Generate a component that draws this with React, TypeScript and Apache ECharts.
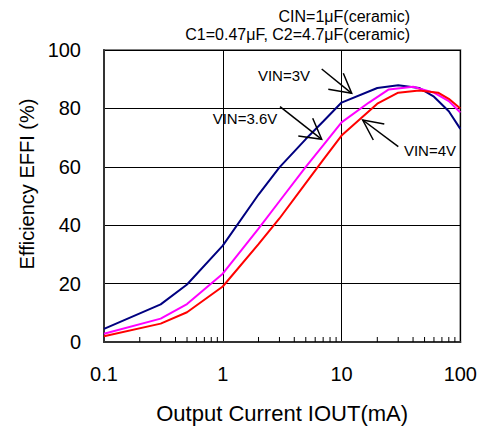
import React, { useEffect, useRef } from "react";
import * as echarts from "echarts";

const FONT = "'Liberation Sans', Arial, sans-serif";

const xTickLabels = ["0.1", "1", "10", "100"];
const yTickValues = [0, 20, 40, 60, 80, 100];

const minorTicks = [
  0.2, 0.3, 0.4, 0.5, 0.6, 0.7, 0.8, 0.9,
  2, 3, 4, 5, 6, 7, 8, 9,
  20, 30, 40, 50, 60, 70, 80, 90,
];

// VIN = 3V
const vin3Current = [0.1, 0.3, 0.5, 1, 2, 3, 5, 7, 10, 20, 30, 45, 60, 80, 100];
const vin3Eff = [4.5, 12.9, 19.7, 33, 50.5, 59.8, 69.5, 75.5, 82, 87, 87.9, 87, 84, 79, 73];

// VIN = 3.6V
const vin36Current = [0.1, 0.3, 0.5, 1, 2, 3, 5, 7, 10, 17, 25, 40, 60, 80, 100];
const vin36Eff = [2.8, 8, 13, 23.4, 38.8, 48.2, 60, 67.3, 75.2, 82, 86.5, 87.4, 85.4, 82.5, 78.6];

// VIN = 4V
const vin4Current = [0.1, 0.3, 0.5, 1, 2, 3, 5, 7, 10, 20, 30, 45, 65, 80, 100];
const vin4Eff = [2, 6.3, 10.2, 19, 33.5, 42.3, 54.4, 62.4, 70.7, 81.6, 85.4, 86.1, 85.4, 83.3, 80];

const zip = (xs: number[], ys: number[]) => xs.map((x, i) => [x, ys[i]]);

export default function App() {
  const ref = useRef<HTMLDivElement>(null);

  useEffect(() => {
    if (!ref.current) return;
    const chart = echarts.init(ref.current, null, { renderer: "svg" });
    const lineSeries = (name: string, data: number[][], color: string) => ({
      name,
      type: "line",
      data,
      symbol: "none",
      smooth: false,
      lineStyle: { color, width: 2 },
      z: 3,
    });
    chart.setOption({
      animation: false,
      backgroundColor: "#ffffff",
      textStyle: { fontFamily: FONT },
      grid: {
        left: 104,
        right: 19,
        top: 50,
        bottom: 83,
        show: true,
        borderColor: "#808080",
        borderWidth: 2,
        backgroundColor: "transparent",
      },
      xAxis: {
        type: "log",
        logBase: 10,
        min: 0.1,
        max: 100,
        axisLine: { show: true, lineStyle: { color: "#333333", width: 2 } },
        axisTick: { show: false },
        splitLine: { show: true, lineStyle: { color: "#000000", width: 1 } },
        axisLabel: {
          color: "#000000",
          fontSize: 20,
          fontFamily: FONT,
          margin: 22,
          formatter: (v: number) => {
            const lbl = xTickLabels.find((t) => Math.abs(parseFloat(t) - v) < 1e-9);
            return lbl ?? String(v);
          },
        },
        name: "Output Current IOUT(mA)",
        nameLocation: "middle",
        nameGap: 60,
        nameTextStyle: { color: "#000000", fontSize: 22, fontFamily: FONT },
      },
      yAxis: {
        type: "value",
        min: 0,
        max: 100,
        interval: 20,
        axisLine: { show: true, lineStyle: { color: "#333333", width: 2 } },
        axisTick: { show: false },
        splitLine: { show: true, lineStyle: { color: "#000000", width: 1 } },
        axisLabel: {
          color: "#000000",
          fontSize: 20,
          fontFamily: FONT,
          margin: 23,
          formatter: (v: number) => (yTickValues.includes(v) ? String(v) : ""),
        },
      },
      series: [
        {
          type: "custom",
          silent: true,
          z: 5,
          data: minorTicks.map((v) => [v, 0]),
          renderItem: (params: any, api: any) => {
            const p = api.coord([api.value(0), 0]);
            return {
              type: "line",
              shape: { x1: p[0], y1: p[1], x2: p[0], y2: p[1] - 5 },
              style: { stroke: "#000000", lineWidth: 1 },
            };
          },
        },
        lineSeries("VIN=3V", zip(vin3Current, vin3Eff), "#000080"),
        lineSeries("VIN=3.6V", zip(vin36Current, vin36Eff), "#ff00ff"),
        lineSeries("VIN=4V", zip(vin4Current, vin4Eff), "#ff0000"),
      ],
      graphic: [
        {
          type: "text",
          x: 26.5,
          y: 184,
          rotation: Math.PI / 2,
          style: {
            text: "Efficiency EFFI (%)",
            fontSize: 20,
            fontFamily: FONT,
            fill: "#000000",
            align: "center",
            verticalAlign: "middle",
          },
        },
        {
          type: "text",
          x: 410,
          y: 16,
          style: {
            text: "CIN=1\u03bcF(ceramic)",
            fontSize: 16,
            fontFamily: FONT,
            fill: "#000000",
            align: "right",
            verticalAlign: "middle",
          },
        },
        {
          type: "text",
          x: 410,
          y: 34,
          style: {
            text: "C1=0.47\u03bcF, C2=4.7\u03bcF(ceramic)",
            fontSize: 16,
            fontFamily: FONT,
            fill: "#000000",
            align: "right",
            verticalAlign: "middle",
          },
        },
        // VIN=3V annotation
        {
          type: "text",
          x: 284,
          y: 75,
          z: 10,
          style: { text: "VIN=3V", fontSize: 15, fontFamily: FONT, fill: "#000", align: "center", verticalAlign: "middle" },
        },
        { type: "line", z: 10, shape: { x1: 321.7, y1: 69, x2: 351.7, y2: 93.3 }, style: { stroke: "#000", lineWidth: 1.5 } },
        { type: "polyline", z: 10, shape: { points: [[343.3, 73.3], [351.7, 93.3], [328.3, 89.3]] }, style: { stroke: "#000", lineWidth: 1.5, fill: null } },
        // VIN=3.6V annotation
        {
          type: "text",
          x: 245,
          y: 118.3,
          z: 10,
          style: { text: "VIN=3.6V", fontSize: 15, fontFamily: FONT, fill: "#000", align: "center", verticalAlign: "middle" },
        },
        { type: "line", z: 10, shape: { x1: 280, y1: 106.7, x2: 321.7, y2: 139.3 }, style: { stroke: "#000", lineWidth: 1.5 } },
        { type: "polyline", z: 10, shape: { points: [[312.7, 118.3], [321.7, 139.3], [298.3, 136]] }, style: { stroke: "#000", lineWidth: 1.5, fill: null } },
        // VIN=4V annotation
        {
          type: "text",
          x: 430,
          y: 150,
          z: 10,
          style: { text: "VIN=4V", fontSize: 15, fontFamily: FONT, fill: "#000", align: "center", verticalAlign: "middle" },
        },
        { type: "line", z: 10, shape: { x1: 398.3, y1: 146.7, x2: 362.7, y2: 120 }, style: { stroke: "#000", lineWidth: 1.5 } },
        { type: "polyline", z: 10, shape: { points: [[384.3, 124], [362.7, 120], [373.3, 140]] }, style: { stroke: "#000", lineWidth: 1.5, fill: null } },
      ],
    });
    return () => chart.dispose();
  }, []);

  return <div ref={ref} style={{ width: 480, height: 429, position: "absolute", left: 0, top: 0 }} />;
}
